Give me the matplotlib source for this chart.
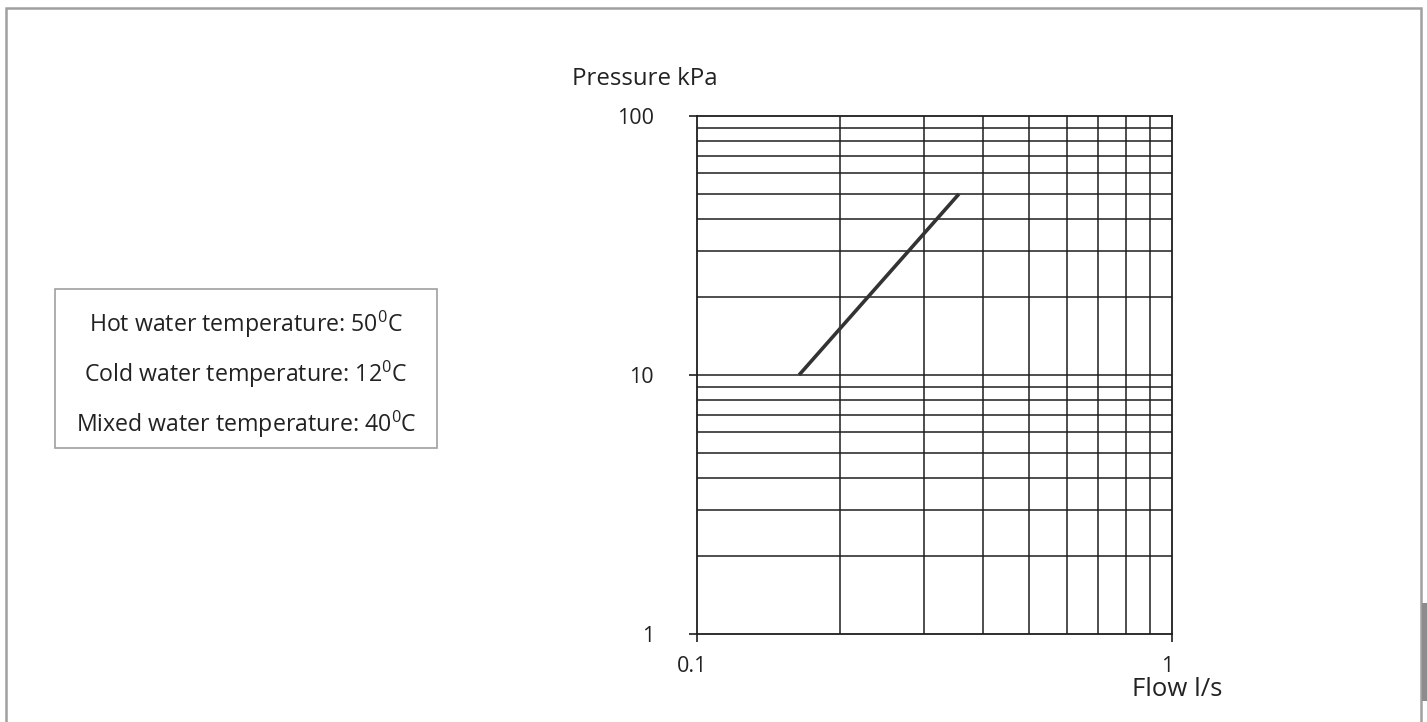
import matplotlib
matplotlib.use("Agg")
import matplotlib.pyplot as plt
from matplotlib.patches import Rectangle
from matplotlib.ticker import FixedLocator, NullLocator
from matplotlib.transforms import ScaledTranslation

plt.rcParams['font.family'] = ['Open Sans', 'DejaVu Sans']
plt.rcParams['mathtext.default'] = 'regular'

# Data
flow = [0.164, 0.356]          # l/s
pressure = [10, 50]            # kPa
x_major = [0.1, 1]
x_labels = ['0.1', '1']
y_major = [1, 10, 100]
y_labels = ['1', '10', '100']
x_minor = [0.2, 0.3, 0.4, 0.5, 0.6, 0.7, 0.8, 0.9]
y_minor = [2, 3, 4, 5, 6, 7, 8, 9, 20, 30, 40, 50, 60, 70, 80, 90]
info_lines = ['Hot water temperature: 50$^{0}$C',
              'Cold water temperature: 12$^{0}$C',
              'Mixed water temperature: 40$^{0}$C']

W, H = 1427, 722
fig = plt.figure(figsize=(W / 100, H / 100), dpi=100)

def fx(px):
    return px / W

def fy(py):
    return 1 - py / H

# outer frame
fig.patches.append(Rectangle((fx(6), fy(760)), fx(1421) - fx(6), fy(8) - fy(760),
                             transform=fig.transFigure, fill=False,
                             edgecolor='#a0a0a0', linewidth=1.8))
fig.patches.append(Rectangle((fx(1422), fy(701)), fx(1427) - fx(1422), fy(603) - fy(701),
                             transform=fig.transFigure, facecolor='#8c8c8c',
                             edgecolor='none'))

ax = fig.add_axes([fx(697), fy(634), fx(1172) - fx(697), fy(116) - fy(634)])
ax.set_xscale('log')
ax.set_yscale('log')
ax.set_xlim(0.1, 1)
ax.set_ylim(1, 100)

grid_c = '#1e1e1e'
for v in x_minor:
    ax.axvline(v, color=grid_c, linewidth=1.1, zorder=1)
for v in y_minor + [10]:
    ax.axhline(v, color=grid_c, linewidth=1.1, zorder=1)

ax.plot(flow, pressure, color='#333333', linewidth=2.6, solid_capstyle='butt', zorder=3)

for s in ax.spines.values():
    s.set_color(grid_c)
    s.set_linewidth(1.3)

ax.xaxis.set_major_locator(FixedLocator(x_major))
ax.yaxis.set_major_locator(FixedLocator(y_major))
ax.set_xticklabels(x_labels)
ax.set_yticklabels(y_labels)
ax.xaxis.set_minor_locator(NullLocator())
ax.yaxis.set_minor_locator(NullLocator())
ax.tick_params(axis='both', which='major', direction='out', length=6, width=1.2,
               color=grid_c, labelsize=15.5, labelcolor='#222222')
ax.tick_params(axis='x', pad=10)
ax.tick_params(axis='y', pad=25)

shift = ScaledTranslation(-5 / 100, 0, fig.dpi_scale_trans)
for lbl in ax.get_xticklabels():
    lbl.set_transform(lbl.get_transform() + shift)

fig.text(fx(572), fy(79), 'Pressure kPa', fontsize=17.3, color='#222222',
         ha='left', va='center')
fig.text(fx(1177), fy(690), 'Flow l/s', fontsize=18.5, color='#222222',
         ha='center', va='center')

# info box
fig.patches.append(Rectangle((fx(55), fy(448)), fx(437) - fx(55), fy(289) - fy(448),
                             transform=fig.transFigure, fill=False,
                             edgecolor='#a0a0a0', linewidth=1.2))
for i, t in enumerate(info_lines):
    fig.text(fx(246), fy(324 + 50 * i), t, fontsize=16.7, color='#222222',
             ha='center', va='center')

fig.savefig('out.png', dpi=100)
